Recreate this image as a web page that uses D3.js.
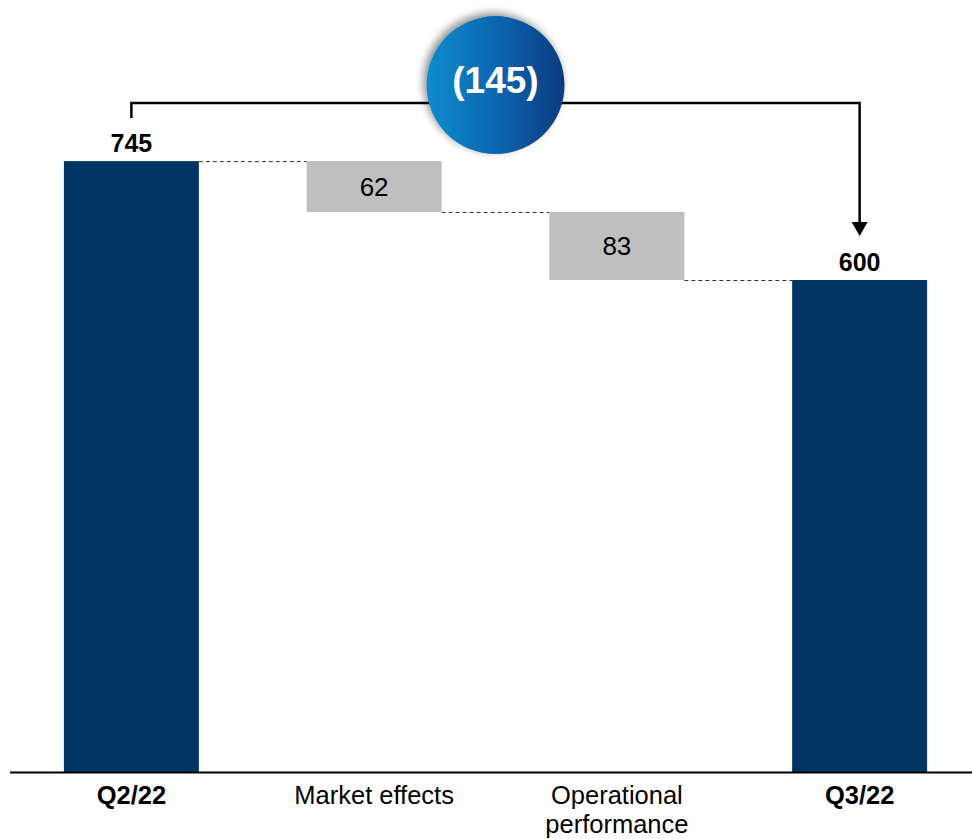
<!DOCTYPE html>
<html>
<head>
<meta charset="utf-8">
<script src="https://cdn.jsdelivr.net/npm/d3@7/dist/d3.min.js"></script>
<style>
  html, body { margin: 0; padding: 0; background: #fff; }
  svg { display: block; font-family: "Liberation Sans", Arial, sans-serif; }
</style>
</head>
<body>
<svg id="chart" width="972" height="839"></svg>
<script>
// ---- data ----
const categories = ["Q2/22", "Market effects", "Operational performance", "Q3/22"];
const labelLines = [["Q2/22"], ["Market effects"], ["Operational", "performance"], ["Q3/22"]];
const values = [745, -62, -83, 600];
const kinds = ["total", "delta", "delta", "total"];
const totalChange = -145;

// ---- layout ----
const W = 972, H = 839;
const baseY = 772;
const svg = d3.select("#chart");

const x = d3.scaleBand().domain(categories).range([10, 981])
  .paddingInner(0.444).paddingOuter(0.222);
const y = d3.scaleLinear().domain([0, 941.5]).range([baseY, 0]);

// compute waterfall segments
let running = 0;
const segs = categories.map((c, i) => {
  let lo, hi;
  if (kinds[i] === "total") { lo = 0; hi = values[i]; running = values[i]; }
  else { const start = running; running = start + values[i]; lo = Math.min(start, running); hi = Math.max(start, running); }
  return { c, i, lo, hi, end: running, kind: kinds[i], v: values[i] };
});

// connectors
const conn = svg.append("g");
for (let i = 0; i < segs.length - 1; i++) {
  const yy = y(segs[i].end);
  conn.append("line")
    .attr("x1", x(segs[i].c) + x.bandwidth()).attr("x2", x(segs[i + 1].c))
    .attr("y1", yy + 0.5).attr("y2", yy + 0.5)
    .attr("stroke", "#333").attr("stroke-width", 1).attr("stroke-dasharray", "4,3");
}

// bars
svg.append("g").selectAll("rect").data(segs).join("rect")
  .attr("x", d => x(d.c)).attr("width", x.bandwidth())
  .attr("y", d => y(d.hi)).attr("height", d => y(d.lo) - y(d.hi))
  .attr("fill", d => d.kind === "total" ? "#003462" : "#bfbfbf");

// value labels
svg.append("g").selectAll("text").data(segs).join("text")
  .attr("x", d => x(d.c) + x.bandwidth() / 2)
  .attr("y", d => d.kind === "total" ? y(d.hi) - 9 : (y(d.hi) + y(d.lo)) / 2 + 9)
  .attr("text-anchor", "middle")
  .attr("font-size", d => d.kind === "total" ? 25 : 26)
  .attr("font-weight", d => d.kind === "total" ? "bold" : "normal")
  .attr("fill", "#000")
  .text(d => Math.abs(d.v));

// baseline axis
svg.append("line").attr("x1", 10).attr("x2", W).attr("y1", baseY + 0.5).attr("y2", baseY + 0.5)
  .attr("stroke", "#000").attr("stroke-width", 2);

// category labels
const lab = svg.append("g").selectAll("text").data(segs).join("text")
  .attr("text-anchor", "middle")
  .attr("font-size", 25.5)
  .attr("font-weight", d => d.kind === "total" ? "bold" : "normal")
  .attr("fill", "#000");
lab.each(function (d) {
  const t = d3.select(this);
  labelLines[d.i].forEach((ln, k) => {
    t.append("tspan").attr("x", x(d.c) + x.bandwidth() / 2).attr("y", 804 + k * 29).text(ln);
  });
});

// bracket with arrow
const first = segs[0], last = segs[segs.length - 1];
const x1 = x(first.c) + x.bandwidth() / 2, x2 = x(last.c) + x.bandwidth() / 2;
const topY = y(first.hi) - 58;
const arrowTip = y(last.hi) - 44;
svg.append("path")
  .attr("d", `M${x1},${y(first.hi) - 43} V${topY} H${x2} V${arrowTip - 12}`)
  .attr("fill", "none").attr("stroke", "#000").attr("stroke-width", 2.5);
svg.append("path")
  .attr("d", `M${x2 - 8},${arrowTip - 14} L${x2 + 8},${arrowTip - 14} L${x2},${arrowTip} Z`)
  .attr("fill", "#000");

// circle badge
const defs = svg.append("defs");
const grad = defs.append("linearGradient").attr("id", "bg").attr("x1", "0%").attr("x2", "100%").attr("y1", "0%").attr("y2", "0%");
grad.append("stop").attr("offset", "0%").attr("stop-color", "#0a8ccd");
grad.append("stop").attr("offset", "55%").attr("stop-color", "#0762ac");
grad.append("stop").attr("offset", "100%").attr("stop-color", "#0a3a80");
const filt = defs.append("filter").attr("id", "sh").attr("x", "-30%").attr("y", "-30%").attr("width", "160%").attr("height", "160%");
filt.append("feGaussianBlur").attr("in", "SourceAlpha").attr("stdDeviation", 4);
filt.append("feOffset").attr("dx", -3).attr("dy", -3).attr("result", "ob");
filt.append("feComponentTransfer").append("feFuncA").attr("type", "linear").attr("slope", 0.45);
const fm = filt.append("feMerge");
fm.append("feMergeNode");
fm.append("feMergeNode").attr("in", "SourceGraphic");

const cx = (x1 + x2) / 2, cy = topY - 18;
svg.append("circle").attr("cx", cx).attr("cy", cy).attr("r", 69)
  .attr("fill", "url(#bg)").attr("filter", "url(#sh)");
svg.append("text").attr("x", cx).attr("y", cy + 8)
  .attr("text-anchor", "middle").attr("font-size", 37).attr("font-weight", "bold")
  .attr("fill", "#fff").text(`(${Math.abs(totalChange)})`);
</script>
</body>
</html>
